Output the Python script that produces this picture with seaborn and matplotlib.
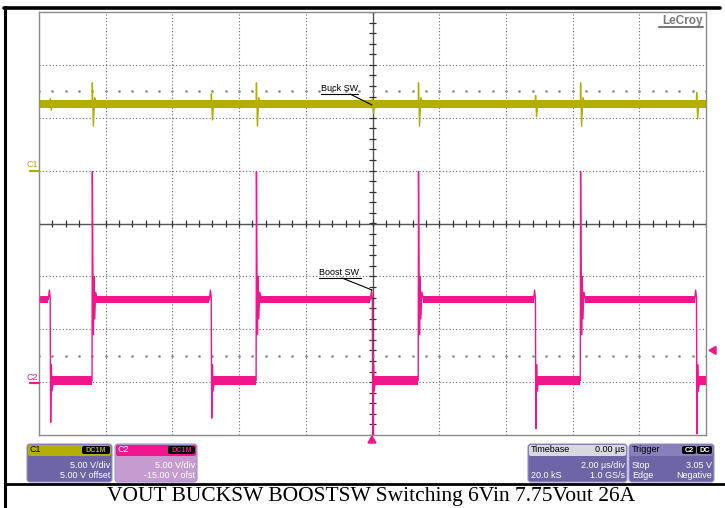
import numpy as np
import pandas as pd
import matplotlib
matplotlib.use("Agg")
import matplotlib.pyplot as plt
import seaborn as sns
from matplotlib.patches import FancyBboxPatch, Polygon

# ---------------- data ----------------
time_per_div = 2.0          # us/div
c1_volts_per_div = 5.0
c1_offset = 5.0
c2_volts_per_div = 5.0
c2_offset = -15.0
trigger_level = 3.05

# Channel 1: Buck switch node
buck_level = 6.3
buck_noise = 0.4
buck_spike_times = [-9.66, -8.40, -4.83, -3.48, 0.00, 1.38, 4.89, 6.24, 9.72]
buck_spike_up = [0.5, 2.0, 1.0, 2.0, 0.5, 2.0, 0.8, 2.0, 1.1]
buck_spike_down = [0.6, 2.1, 1.5, 2.1, 0.9, 2.1, 1.2, 2.1, 1.4]

# Channel 2: Boost switch node
boost_high = 7.8
boost_low = 0.15
boost_noise_high = 0.36
boost_noise_low = 0.46
boost_fall_times = [-9.66, -4.83, 0.00, 4.89, 9.72]
boost_fall_undershoot = [-3.8, -3.4, -5.0, -4.4, -4.9]
boost_rise_times = [-8.40, -3.48, 1.38, 6.24]
boost_rise_overshoot = [19.9, 19.9, 19.9, 19.9]

caption = "VOUT BUCKSW BOOSTSW Switching 6Vin 7.75Vout 26A"

C1_COLOR = "#b4ae00"
C2_COLOR = "#f2168c"
PANEL = "#6d65a5"
PANEL2 = "#c69bd0"

# ---------------- build waveforms ----------------
def to_div(v, off, vpd):
    return (np.asarray(v, dtype=float) + off) / vpd

t1 = [-10.0]; v1 = [buck_level]
for ts, up, dn in zip(buck_spike_times, buck_spike_up, buck_spike_down):
    t1 += [ts - 0.01, ts, ts + 0.03, ts + 0.07, ts + 0.14]
    v1 += [buck_level, buck_level + up, buck_level - dn,
           buck_level + 0.3 * up, buck_level]
t1.append(10.0); v1.append(buck_level)

events = sorted([(t, "fall", a) for t, a in zip(boost_fall_times, boost_fall_undershoot)] +
                [(t, "rise", a) for t, a in zip(boost_rise_times, boost_rise_overshoot)])
t2 = [-10.0]; v2 = [boost_high]
high_segs, low_segs = [], []
state_start = -10.0
for te, kind, amp in events:
    if kind == "fall":
        high_segs.append((state_start, te - 0.06))
        pts = [(te - 0.06, boost_high), (te - 0.03, boost_high + 0.9),
               (te - 0.005, boost_high + 0.2), (te, boost_low + 3.0),
               (te + 0.01, amp), (te + 0.03, boost_low + 1.5),
               (te + 0.05, boost_low - 1.0), (te + 0.09, boost_low)]
        state_start = te + 0.05
    else:
        low_segs.append((state_start, te - 0.01))
        pts = [(te - 0.01, boost_low), (te, amp), (te + 0.015, 11.0),
               (te + 0.03, 4.5), (te + 0.05, 10.0), (te + 0.07, 6.0),
               (te + 0.10, 8.5), (te + 0.15, boost_high)]
        state_start = te + 0.12
    for a, b in pts:
        t2.append(a); v2.append(b)
last_kind = events[-1][1]
if last_kind == "fall":
    low_segs.append((state_start, 10.0)); t2.append(10.0); v2.append(boost_low)
else:
    high_segs.append((state_start, 10.0)); t2.append(10.0); v2.append(boost_high)

df = pd.concat([
    pd.DataFrame({"t": t1, "div": to_div(v1, c1_offset, c1_volts_per_div), "ch": "C1"}),
    pd.DataFrame({"t": t2, "div": to_div(v2, c2_offset, c2_volts_per_div), "ch": "C2"}),
], ignore_index=True)

# ---------------- figure ----------------
sns.set_style("white")
plt.rcParams["font.family"] = ["Liberation Sans", "DejaVu Sans"]

W, H = 725, 508
fig = plt.figure(figsize=(W / 100, H / 100), dpi=100)
fig.patch.set_facecolor("white")

L, R, T, B = 39, 706, 12, 435
ax = fig.add_axes([L / W, (H - B) / H, (R - L) / W, (B - T) / H])
ax.set_xlim(-10, 10)
ax.set_ylim(-4, 4)
ax.set_xticks([]); ax.set_yticks([])
for s in ax.spines.values():
    s.set_color("#8a8a8a"); s.set_linewidth(1.0)

grid_kw = dict(color="#6a6a6a", lw=0.8, ls=(0, (1, 2)), zorder=1)
for x in np.arange(-8, 9, 2):
    if x != 0:
        ax.axvline(x, **grid_kw)
for y in range(-3, 4):
    if y != 0:
        ax.axhline(y, **grid_kw)
ax.axvline(0, color="#555555", lw=1.0, zorder=1)
ax.axhline(0, color="#555555", lw=1.0, zorder=1)
ax.vlines(np.arange(-10, 10.01, 0.4), -0.06, 0.06, color="#333333", lw=0.9, zorder=1)
ax.hlines(np.arange(-4, 4.01, 0.2), -0.09, 0.09, color="#333333", lw=0.9, zorder=1)
dots_x = np.arange(-10, 10.01, 0.4)
for yy in (2.5, -2.5):
    ax.plot(dots_x, np.full_like(dots_x, yy), ls="none", marker="s", ms=0.8,
            color="#888888", zorder=1)

# noise bands
ax.fill_between([-10.0, 10.0], to_div(buck_level - buck_noise, c1_offset, c1_volts_per_div),
                to_div(buck_level + buck_noise, c1_offset, c1_volts_per_div),
                color=C1_COLOR, lw=0, zorder=2)
for a, b in high_segs:
    ax.fill_between([a, b], to_div(boost_high - boost_noise_high, c2_offset, c2_volts_per_div),
                    to_div(boost_high + boost_noise_high, c2_offset, c2_volts_per_div),
                    color=C2_COLOR, lw=0, zorder=2)
for a, b in low_segs:
    ax.fill_between([a, b], to_div(boost_low - boost_noise_low, c2_offset, c2_volts_per_div),
                    to_div(boost_low + boost_noise_low, c2_offset, c2_volts_per_div),
                    color=C2_COLOR, lw=0, zorder=2)

sns.lineplot(data=df, x="t", y="div", hue="ch", units="ch", estimator=None, sort=False,
             palette={"C1": C1_COLOR, "C2": C2_COLOR}, lw=1.0, legend=False, ax=ax, zorder=3)
ax.set_xlabel(""); ax.set_ylabel("")

# ---------------- overlay in pixel coords ----------------
ov = fig.add_axes([0, 0, 1, 1])
ov.set_xlim(0, W); ov.set_ylim(H, 0); ov.axis("off")

# outer frame
ov.plot([5, 5], [7, H], color="black", lw=2.2)
ov.plot([4, 720], [7.5, 7.5], color="black", lw=2.6)
ov.plot([5, W], [484, 484], color="black", lw=2.0)

# LeCroy logo
ov.text(703, 24, "LeCroy", ha="right", va="baseline", fontsize=8.5, color="#7a7a7a",
        fontweight="bold")
ov.plot([659, 703], [27, 27], color="#7a7a7a", lw=1.5)

# channel markers
ov.text(27, 167, "C1", fontsize=6.5, color=C1_COLOR, va="baseline", rotation=0)
ov.plot([30, 39], [171, 171], color=C1_COLOR, lw=1.6)
ov.text(27, 380, "C2", fontsize=6.5, color=C2_COLOR, va="baseline", rotation=0)
ov.plot([30, 39], [383, 383], color=C2_COLOR, lw=1.6)

# trigger markers
ov.add_patch(Polygon([(368, 443), (376, 443), (372, 436)], closed=True, color=C2_COLOR))
trig_y = 224 - to_div(trigger_level, c2_offset, c2_volts_per_div) * (B - T) / 8
ov.add_patch(Polygon([(709, trig_y), (716, trig_y - 4), (716, trig_y + 4)], closed=True, color=C2_COLOR))

# annotations
ov.text(321, 91, "Buck SW", fontsize=6.5, color="black", va="baseline")
ov.plot([321, 358], [94, 94], color="black", lw=0.8)
ov.plot([350, 372], [94, 105], color="black", lw=0.8)
ov.text(319, 275, "Boost SW", fontsize=6.5, color="black", va="baseline")
ov.plot([319, 361], [278, 278], color="black", lw=0.8)
ov.plot([342, 372], [278, 290], color="black", lw=0.8)


def panel(x0, x1, y0, y1, head_col, body_col, hy=11):
    ov.add_patch(FancyBboxPatch((x0, y0), x1 - x0, y1 - y0,
                                boxstyle="round,pad=0,rounding_size=3",
                                fc=body_col, ec="#9a94c8", lw=0.8))
    if head_col is not None:
        ov.add_patch(FancyBboxPatch((x0 + 1, y0 + 1), x1 - x0 - 2, hy,
                                    boxstyle="round,pad=0,rounding_size=2",
                                    fc=head_col, ec="none"))


def badge(x0, x1, y0, y1, txt, col):
    ov.add_patch(FancyBboxPatch((x0, y0), x1 - x0, y1 - y0,
                                boxstyle="round,pad=0,rounding_size=2",
                                fc="black", ec="none"))
    ov.text((x0 + x1) / 2, (y0 + y1) / 2 + 0.5, txt, ha="center", va="center",
            fontsize=5.2, color=col, fontweight="bold")


fs = 6.5
# C1 panel
panel(27, 112, 444, 482, C1_COLOR, PANEL)
ov.text(30, 450, "C1", fontsize=fs, color="black", va="center")
badge(82, 110, 446, 454, "DC1M", C1_COLOR)
ov.text(110, 465, "5.00 V/div", fontsize=fs, color="white", ha="right", va="center")
ov.text(110, 476, "5.00 V offset", fontsize=fs, color="white", ha="right", va="center")
# C2 panel
panel(115, 197, 444, 482, C2_COLOR, PANEL2)
ov.text(118, 450, "C2", fontsize=fs, color="white", va="center")
badge(168, 195, 446, 454, "DC1M", C2_COLOR)
ov.text(195, 465, "5.00 V/div", fontsize=fs, color="white", ha="right", va="center")
ov.text(195, 476, "-15.00 V ofst", fontsize=fs, color="white", ha="right", va="center")
# Timebase panel
panel(528, 627, 444, 482, "#d8d8e0", PANEL)
ov.text(531, 450, "Timebase", fontsize=fs, color="black", va="center")
ov.text(625, 450, "0.00 µs", fontsize=fs, color="black", ha="right", va="center")
ov.text(625, 465, "2.00 µs/div", fontsize=fs, color="white", ha="right", va="center")
ov.text(531, 476, "20.0 kS", fontsize=fs, color="white", va="center")
ov.text(625, 476, "1.0 GS/s", fontsize=fs, color="white", ha="right", va="center")
# Trigger panel
panel(629, 714, 444, 482, "#8680bb", PANEL)
ov.text(632, 450, "Trigger", fontsize=fs, color="black", va="center")
badge(682, 696, 446, 454, "C2", "white")
badge(697, 712, 446, 454, "DC", "white")
ov.text(632, 465, "Stop", fontsize=fs, color="white", va="center")
ov.text(712, 465, "3.05 V", fontsize=fs, color="white", ha="right", va="center")
ov.text(632, 476, "Edge", fontsize=fs, color="white", va="center")
ov.text(712, 476, "Negative", fontsize=fs, color="white", ha="right", va="center")

# caption
ov.text(371, 496, caption, ha="center", va="center", fontsize=15.5,
        family=["Liberation Serif", "DejaVu Serif"], color="black")

fig.savefig("out.png", dpi=100)
